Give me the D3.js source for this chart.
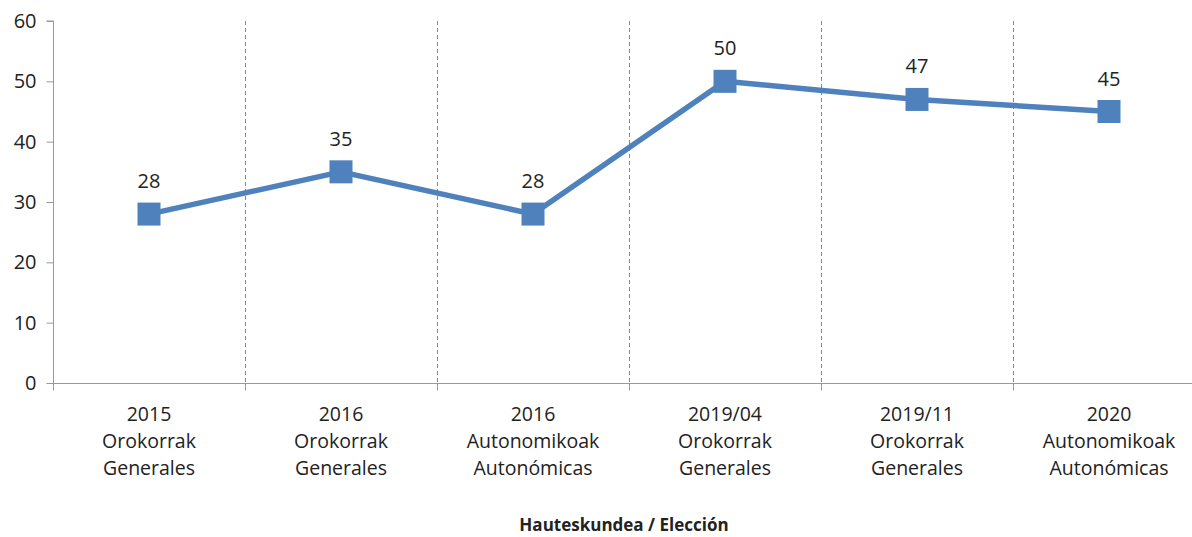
<!DOCTYPE html>
<html><head><meta charset="utf-8">
<script src="https://cdn.jsdelivr.net/npm/d3@7"></script>
<style>body{margin:0;background:#fff}svg{display:block}text{font-family:"Open Sans",sans-serif;fill:#222}</style>
</head><body><svg id="c" width="1192" height="537"></svg>
<script>
const years = ["2015","2016","2016","2019/04","2019/11","2020"];
const line2 = ["Orokorrak","Orokorrak","Autonomikoak","Orokorrak","Orokorrak","Autonomikoak"];
const line3 = ["Generales","Generales","Autonómicas","Generales","Generales","Autonómicas"];
const values = [28,35,28,50,47,45];
const yTicks = [0,10,20,30,40,50,60];
const xTitle = "Hauteskundea / Elección";

const svg = d3.select("#c");
const idx = d3.range(values.length);
const x = d3.scaleBand().domain(idx).range([53,1205]);
const y = d3.scaleLinear().domain([0,60]).range([383,21]);

// gridlines at category boundaries
svg.append("g").selectAll("line").data(idx.slice(1)).join("line")
  .attr("x1",d=>x(d)+0.5).attr("x2",d=>x(d)+0.5)
  .attr("y1",y(60)).attr("y2",y(0))
  .attr("stroke","#888").attr("stroke-dasharray","4,3").attr("stroke-width",1);

// y axis
const ya = svg.append("g").attr("transform","translate(53.5,0)")
  .call(d3.axisLeft(y).tickValues(yTicks).tickSize(7).tickPadding(10));
ya.select(".domain").attr("stroke","#999").attr("d",`M-7,${y(60)}H0V${y(0)}`);
ya.selectAll(".tick line").attr("stroke","#999");
ya.selectAll(".tick text").style("font-size","20px").attr("fill","#222").style("font-family","'Open Sans',sans-serif");

// x axis
const xa = svg.append("g").attr("transform","translate(0,383.5)");
xa.append("line").attr("x1",53).attr("x2",1205).attr("stroke","#999");
xa.selectAll("line.t").data(idx.concat([values.length])).join("line").attr("class","t")
  .attr("x1",d=>(d<values.length?x(d):x.range()[1])+0.5).attr("x2",d=>(d<values.length?x(d):x.range()[1])+0.5)
  .attr("y1",0).attr("y2",7).attr("stroke","#999");
const lbl = xa.selectAll("text.l").data(idx).join("text").attr("class","l")
  .attr("text-anchor","middle").style("font-size","19.5px")
  .attr("transform",d=>`translate(${x(d)+x.bandwidth()/2},0)`);
lbl.append("tspan").attr("x",0).attr("y",37).text(d=>years[d]);
lbl.append("tspan").attr("x",0).attr("y",64).text(d=>line2[d]);
lbl.append("tspan").attr("x",0).attr("y",91).text(d=>line3[d]);

svg.append("text").attr("x",624).attr("y",531).attr("text-anchor","middle")
  .style("font-size","17px").style("font-weight","bold").text(xTitle);

// line
const cx = d=>x(d)+x.bandwidth()/2;
svg.append("path").datum(idx)
  .attr("d",d3.line().x(cx).y(d=>y(values[d])))
  .attr("fill","none").attr("stroke","#4f81bd").attr("stroke-width",5.5).attr("stroke-linejoin","round");
svg.append("g").selectAll("rect").data(idx).join("rect")
  .attr("x",d=>cx(d)-11.5).attr("y",d=>y(values[d])-11.5).attr("width",23).attr("height",23)
  .attr("fill","#4f81bd");
svg.append("g").selectAll("text").data(idx).join("text")
  .attr("x",cx).attr("y",d=>y(values[d])-26).attr("text-anchor","middle")
  .style("font-size","20px").text(d=>values[d]);
</script></body></html>
